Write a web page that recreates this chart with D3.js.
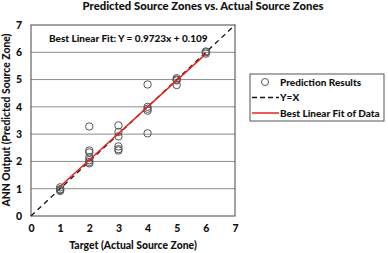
<!DOCTYPE html>
<html>
<head>
<meta charset="utf-8">
<script src="https://cdn.jsdelivr.net/npm/d3@7"></script>
<style>
  body { margin: 0; background: #fff; }
  svg text { font-family: Lato, "Open Sans", sans-serif; font-weight: 900; fill: #111; }
</style>
</head>
<body>
<div id="chart"></div>
<script>
// Target (actual zone) for each prediction
var targets = [1, 1, 1, 1,
    2, 2, 2, 2, 2, 2, 2,
    3, 3, 3, 3, 3, 3,
    4, 4, 4, 4, 4,
    5, 5, 5, 5,
    6, 6, 6];
// ANN output for each target
var outputs = [1.05, 0.98, 0.95, 0.92,
    3.28, 2.4, 2.33, 2.15, 2.05, 1.98, 1.93,
    3.32, 3.08, 2.92, 2.55, 2.45, 2.4,
    4.82, 4.0, 3.93, 3.86, 3.03,
    5.05, 5.0, 4.97, 4.8,
    6.03, 6.0, 5.95];
var ticks = [0, 1, 2, 3, 4, 5, 6, 7];
var fitSlope = 0.9723;
var fitIntercept = 0.109;
var fitRange = [1, 6];
var legendItems = ["Prediction Results", "Y=X", "Best Linear Fit of Data"];

function init() {
    var w = 388;
    var h = 253;

    var svg = d3.select("#chart")
        .append("svg")
        .attr("width", w)
        .attr("height", h);

    var xScale = d3.scaleLinear().domain([0, 7]).range([31, 235]);
    var yScale = d3.scaleLinear().domain([0, 7]).range([216, 25]);

    // Title
    svg.append("text")
        .attr("x", 203)
        .attr("y", 10)
        .attr("text-anchor", "middle")
        .style("font-size", "11.3px")
        .text("Predicted Source Zones vs. Actual Source Zones");

    // Horizontal gridlines
    svg.selectAll(".grid")
        .data(ticks.slice(1, 7))
        .enter()
        .append("line")
        .attr("class", "grid")
        .attr("x1", xScale(0))
        .attr("x2", xScale(7))
        .attr("y1", d => yScale(d))
        .attr("y2", d => yScale(d))
        .attr("stroke", "#8c8c8c")
        .attr("stroke-width", 1);

    // Plot frame
    svg.append("rect")
        .attr("x", xScale(0))
        .attr("y", yScale(7))
        .attr("width", xScale(7) - xScale(0))
        .attr("height", yScale(0) - yScale(7))
        .attr("fill", "none")
        .attr("stroke", "#444")
        .attr("stroke-width", 1);

    // Axes (labels only, no tick marks)
    var xAxis = d3.axisBottom(xScale).tickValues(ticks).tickFormat(d3.format("d")).tickSize(0).tickPadding(9);
    var yAxis = d3.axisLeft(yScale).tickValues(ticks).tickFormat(d3.format("d")).tickSize(0).tickPadding(9);

    var gx = svg.append("g")
        .attr("transform", `translate(0, ${yScale(0)})`)
        .call(xAxis);
    var gy = svg.append("g")
        .attr("transform", `translate(${xScale(0)}, 0)`)
        .call(yAxis);
    [gx, gy].forEach(g => {
        g.select(".domain").remove();
        g.selectAll("text")
            .style("font-size", "10.5px")
            .style("font-family", "Lato, sans-serif")
            .style("font-weight", "900")
            .attr("fill", "#111");
    });

    // Y = X dashed line
    svg.append("line")
        .attr("x1", xScale(0))
        .attr("y1", yScale(0))
        .attr("x2", xScale(7))
        .attr("y2", yScale(7))
        .attr("stroke", "#111")
        .attr("stroke-width", 1.3)
        .attr("stroke-dasharray", "5,4");

    // Points
    svg.selectAll("circle.pt")
        .data(targets.map((t, i) => ({ t: t, o: outputs[i] })))
        .enter()
        .append("circle")
        .attr("class", "pt")
        .attr("cx", d => xScale(d.t))
        .attr("cy", d => yScale(d.o))
        .attr("r", 3.7)
        .attr("fill", "none")
        .attr("stroke", "#555")
        .attr("stroke-width", 1);

    // Best linear fit
    svg.append("line")
        .attr("x1", xScale(fitRange[0]))
        .attr("y1", yScale(fitSlope * fitRange[0] + fitIntercept))
        .attr("x2", xScale(fitRange[1]))
        .attr("y2", yScale(fitSlope * fitRange[1] + fitIntercept))
        .attr("stroke", "#e8231c")
        .attr("stroke-width", 1.5);

    // Fit equation
    svg.append("text")
        .attr("x", 49)
        .attr("y", 42)
        .style("font-size", "10px")
        .text("Best Linear Fit: Y = 0.9723x + 0.109");

    // Axis titles
    svg.append("text")
        .attr("x", 133)
        .attr("y", 249)
        .attr("text-anchor", "middle")
        .style("font-size", "10.4px")
        .text("Target (Actual Source Zone)");

    svg.append("text")
        .attr("transform", "translate(10, 120) rotate(-90)")
        .attr("text-anchor", "middle")
        .style("font-size", "10.4px")
        .text("ANN Output (Predicted Source Zone)");

    // Legend
    var lg = svg.append("g").attr("transform", "translate(250, 74)");
    lg.append("rect")
        .attr("width", 134)
        .attr("height", 47)
        .attr("fill", "#fff")
        .attr("stroke", "#555")
        .attr("stroke-width", 1);

    var rows = lg.selectAll(".row")
        .data(legendItems)
        .enter()
        .append("g")
        .attr("class", "row")
        .attr("transform", (d, i) => `translate(0, ${8 + i * 15.5})`);

    rows.append("text")
        .attr("x", 30)
        .attr("y", 3.5)
        .style("font-size", "10px")
        .text(d => d);

    lg.append("circle")
        .attr("cx", 15)
        .attr("cy", 8)
        .attr("r", 3.5)
        .attr("fill", "none")
        .attr("stroke", "#555");
    lg.append("line")
        .attr("x1", 2).attr("x2", 29)
        .attr("y1", 23.5).attr("y2", 23.5)
        .attr("stroke", "#111")
        .attr("stroke-width", 1.3)
        .attr("stroke-dasharray", "5,3");
    lg.append("line")
        .attr("x1", 2).attr("x2", 29)
        .attr("y1", 39).attr("y2", 39)
        .attr("stroke", "#e8231c")
        .attr("stroke-width", 1.5);
}

window.onload = init;
</script>
</body>
</html>
